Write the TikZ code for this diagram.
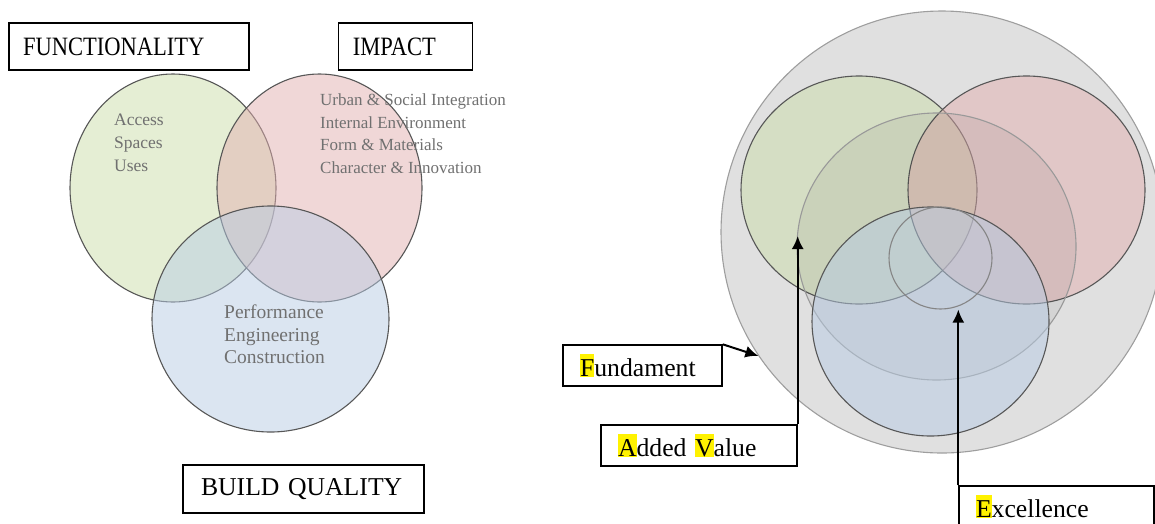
\documentclass[tikz,border=0pt]{standalone}
\usepackage{fontspec}
\setmainfont{Liberation Serif}
\newfontfamily\squeezed[FakeStretch=0.85]{Liberation Serif}
\usetikzlibrary{shapes.geometric,arrows.meta}
\definecolor{vgreen}{RGB}{204,222,170}
\definecolor{vpink}{RGB}{226,176,176}
\definecolor{vblue}{RGB}{184,204,228}
\definecolor{vtext}{RGB}{112,112,112}
\definecolor{vouter}{RGB}{224,224,224}
\newcommand{\hl}[1]{{\setlength{\fboxsep}{0pt}\colorbox{yellow}{\rule{0pt}{0.9em}#1}}}
\tikzset{edge/.style = {-{Latex[length=13pt,width=12pt]}, line width=2pt}}

\begin{document}
\begin{tikzpicture}[x=1pt,y=-1pt,
  venn/.style={ellipse,draw=black!66,line width=1.1pt,fill opacity=.5,text opacity=1,inner sep=0},
  label box/.style={draw,line width=1.4pt,align=left,inner ysep=0,fill=white},
  list/.style={text=vtext,align=left,inner sep=0,anchor=north west}]
  \useasboundingbox (0,0) rectangle (1155,523);

  % left diagram
  \node[venn,fill=vgreen,minimum width=206pt,minimum height=228pt] (cfunc) at (173,188) {};
  \node[venn,fill=vpink,minimum width=205pt,minimum height=228pt] (cimpact) at (319.5,188) {};
  \node[venn,fill=vblue,minimum width=237pt,minimum height=226pt] (cbuild) at (270.5,319) {};

  \node[list,font=\fontsize{17.5}{23}\selectfont] (funclist) at (114,113.5) {Access\\Spaces\\Uses};
  \node[list,font=\fontsize{17}{22.7}\selectfont] (impactlist) at (320,93.5) {Urban \& Social Integration\\Internal Environment\\Form \& Materials\\Character \& Innovation};
  \node[list,font=\fontsize{19.5}{22.5}\selectfont] (buildlist) at (224,304.7) {Performance\\Engineering\\Construction};

  \node[label box,font=\squeezed\fontsize{26.5}{30}\selectfont,text width=212pt,inner xsep=14pt,minimum height=47pt] (func) at (129,46.5) {FUNCTIONALITY};
  \node[label box,font=\squeezed\fontsize{26.5}{30}\selectfont,text width=105.5pt,inner xsep=14pt,minimum height=47pt] (impact) at (405.5,46.5) {IMPACT};
  \node[label box,font=\fontsize{25.7}{30}\selectfont,text width=205pt,inner xsep=18pt,minimum height=48pt] (build) at (303.5,489) {BUILD QUALITY};

  % right diagram
  \node[circle,draw=black!38,line width=1.1pt,fill=vouter,minimum size=442pt,inner sep=0] (outer) at (942,232) {};
  \node[venn,fill=vgreen,minimum width=236pt,minimum height=228pt] (rfunc) at (859,190) {};
  \node[venn,fill=vpink,minimum width=237pt,minimum height=228pt] (rimpact) at (1026.5,190) {};
  \node[ellipse,draw=black!40,line width=1.1pt,fill=black,fill opacity=.05,inner sep=0,minimum width=279pt,minimum height=267pt] (added) at (936.5,246.5) {};
  \node[venn,fill=vblue,minimum width=237pt,minimum height=229pt] (rbuild) at (930.5,321.5) {};
  \node[ellipse,draw=black!48,line width=1.1pt,inner sep=0,minimum width=103pt,minimum height=102pt] (excel) at (940.5,258) {};
  \coordinate (addtip) at (796,236);

  \node[label box,font=\fontsize{25.7}{30}\selectfont,text width=125pt,inner xsep=17pt,minimum height=41pt] (fundlbl) at (642.5,365.5) {\hl{F}undament};
  \node[label box,font=\fontsize{25.7}{30}\selectfont,text width=162pt,inner xsep=17pt,minimum height=41pt] (addlbl) at (699,445.5) {\hl{A}dded \hl{V}alue};
  \node[label box,font=\fontsize{25.7}{30}\selectfont,text width=161pt,inner xsep=17pt,minimum height=41pt] (exclbl) at (1056.5,506.5) {\hl{E}xcellence};

  \draw[edge] (fundlbl.north east) -- (outer.214);
  \draw[edge] (addlbl.north east) -- (addlbl.north east |- addtip);
  \draw[edge] (exclbl.north west) -- (exclbl.north west |- excel.south);
\end{tikzpicture}
\end{document}
